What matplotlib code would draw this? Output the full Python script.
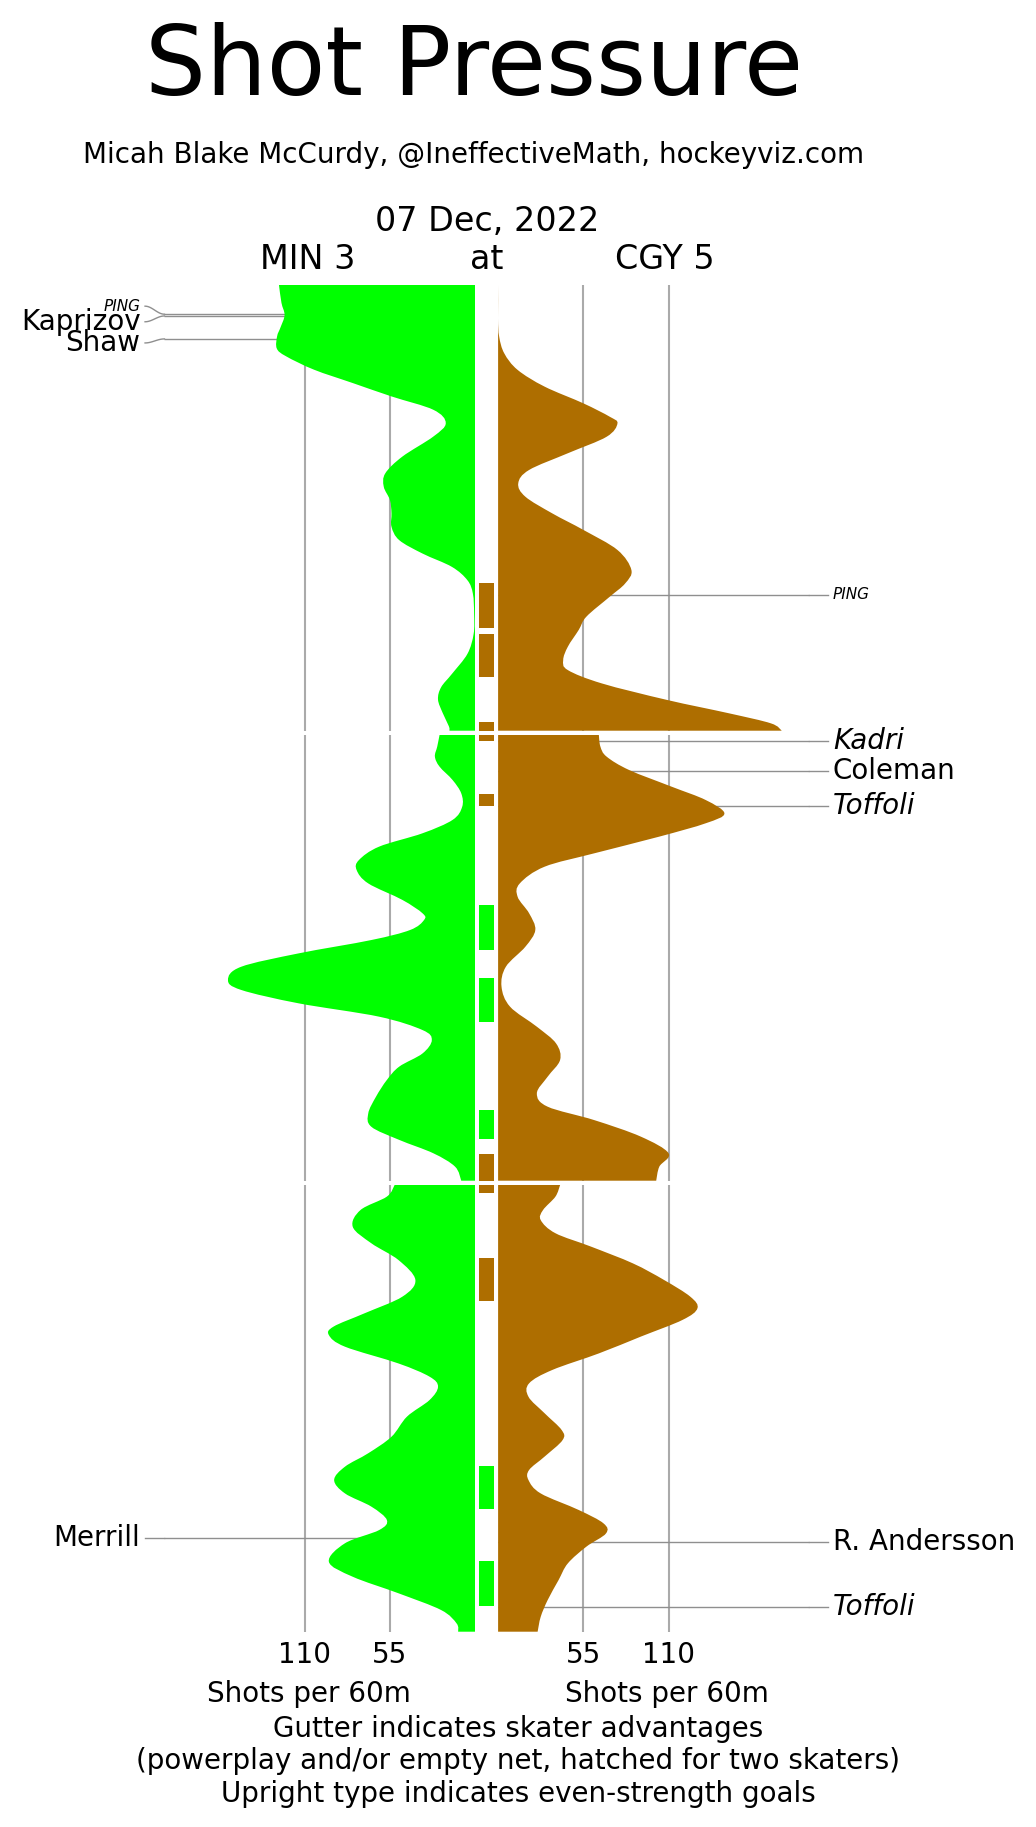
import numpy as np
import matplotlib.pyplot as plt
from matplotlib.path import Path
from matplotlib.patches import PathPatch
from matplotlib.transforms import blended_transform_factory

plt.rcParams['font.family'] = 'DejaVu Sans'

GREEN = '#00ff00'
BROWN = '#ae6e00'
GRID = '#aaaaaa'
LEAD = '#8f8f8f'

# MIN (left side): shots per 60m, vs minutes into period
min_t1 = [0, 0.8, 1.35, 1.9, 2.3, 2.85, 3.2, 3.8, 4.4, 5.0, 5.6, 6.2, 6.8, 7.7, 8.45, 9.05,
          9.65, 10.25, 10.85, 11.45, 12.05, 12.65, 13.25, 13.85, 14.75, 15.65, 16.55, 17.45,
          18.05, 18.6, 19.2, 19.8, 20]
min_v1 = [126.6, 125, 123, 125.6, 127.8, 128, 122, 104, 79, 54, 27, 19, 27, 47, 58, 59,
          55, 54, 54, 49, 34, 15, 5, 1.5, 0.7, 1, 5, 15, 22, 24, 21, 17, 16.6]
min_t2 = [0, 0.52, 0.97, 1.42, 2.02, 2.62, 3.22, 3.81, 4.41, 5.01, 5.61, 6.06, 6.66, 7.4,
          8.0, 8.3, 8.75, 9.2, 9.8, 10.4, 10.99, 11.44, 12.04, 12.64, 13.24, 13.69, 14.29,
          14.88, 15.48, 16.23, 16.98, 17.58, 18.17, 18.77, 19.37, 20]
min_v2 = [23, 24.5, 26, 23, 14.6, 9, 8.4, 14.6, 34, 62, 75, 76.5, 69, 47, 34, 33, 42, 67,
          114, 151, 159.5, 151, 114, 62, 34, 28, 34, 49, 57, 64, 69, 67, 49, 27, 13, 9]
min_t3 = [0, 0.52, 1.12, 1.87, 2.61, 3.36, 4.25, 5.0, 5.75, 6.34, 6.72, 7.24, 7.99, 8.58,
          9.03, 9.63, 10.37, 11.27, 12.01, 12.61, 13.21, 13.81, 14.4, 15.0, 15.45, 16.04,
          16.87, 17.54, 18.28, 19.03, 19.63, 20]
min_v3 = [52, 57, 74, 79, 67, 49.5, 38.6, 47, 71.6, 91.4, 94.4, 84, 49.5, 29.5, 24, 29.5,
          44, 54, 69, 84, 91, 84, 67, 57, 62, 84, 94.4, 79, 49.5, 22, 12, 11]

# CGY (right side)
cgy_t1 = [0, 1.5, 2.32, 3.07, 3.81, 4.56, 5.31, 5.91, 6.21, 6.81, 7.55, 8.3, 8.9, 9.5,
          10.25, 10.99, 11.89, 12.79, 13.39, 13.99, 14.88, 15.48, 16.23, 16.83, 17.28,
          17.88, 18.62, 19.22, 19.67, 20]
cgy_v1 = [0, 0, 0.7, 4, 12.6, 30, 55, 72, 77, 70, 45, 20, 13, 17.6, 35, 55, 77, 86, 82, 72,
          57, 52, 45, 42, 45, 67, 109, 149, 176, 183]
cgy_t2 = [0, 0.52, 0.97, 1.57, 2.32, 2.92, 3.52, 3.96, 4.56, 5.31, 5.91, 6.66, 7.26, 8.0,
          8.75, 9.5, 10.4, 11.29, 12.19, 13.09, 13.84, 14.58, 15.33, 16.08, 16.68, 17.28,
          18.02, 18.77, 19.37, 20]
cgy_v2 = [65, 66, 70, 84.5, 112, 134, 146, 134, 104, 62, 30, 14, 12.6, 20, 24, 17.6, 5, 2.2,
          7.7, 25, 37.4, 40, 32, 25, 32, 62, 92, 110, 104, 102]
cgy_t3 = [0, 0.52, 1.12, 1.57, 2.16, 2.76, 3.51, 4.25, 5.0, 5.52, 6.04, 6.79, 7.54, 8.28,
          8.88, 9.48, 10.22, 10.97, 11.42, 12.16, 12.76, 13.21, 13.81, 14.55, 15.15, 15.6,
          16.19, 16.94, 17.69, 18.58, 19.33, 20]
cgy_v3 = [40, 37, 29, 27.5, 37, 60, 87, 107, 124, 128.6, 119, 92, 65, 35, 20, 19.6, 30, 41,
          41.6, 30, 20, 19.6, 27.5, 52, 68, 69.6, 57, 45, 39, 32, 27.5, 25.5]

# skater advantages in the gutter: (period, start, end, team)
adv_period = [1, 1, 1, 2, 2, 2, 2, 2, 2, 3, 3, 3, 3]
adv_start = [13.39, 15.66, 19.63, 0, 2.65, 7.63, 10.9, 16.83, 18.8, 0, 3.25, 12.57, 16.83]
adv_end = [15.38, 17.61, 20, 0.25, 3.17, 9.63, 12.86, 18.11, 20, 0.34, 5.19, 14.52, 18.86]
adv_team = ['CGY', 'CGY', 'CGY', 'CGY', 'CGY', 'MIN', 'MIN', 'MIN', 'CGY', 'CGY', 'CGY',
            'MIN', 'MIN']

# goals / posts
min_goal_period = [1, 1, 1, 3]
min_goal_time = [1.31, 1.39, 2.42, 15.81]
min_goal_label_time = [0.95, 1.65, 2.6, 15.81]
min_goal_name = ['PING', 'Kaprizov', 'Shaw', 'Merrill']
min_goal_italic = [True, False, False, False]

cgy_goal_period = [1, 2, 2, 2, 3, 3]
cgy_goal_time = [13.91, 0.27, 1.62, 3.19, 15.98, 18.88]
cgy_goal_label_time = cgy_goal_time
cgy_goal_name = ['PING', 'Kadri', 'Coleman', 'Toffoli', 'R. Andersson', 'Toffoli']
cgy_goal_italic = [True, True, False, True, False, True]

grid_vals = [55, 110]

W, H = 1036, 1827
fig = plt.figure(figsize=(W / 100, H / 100), dpi=100)

PX_PER_UNIT = 1.55
ZERO_L, ZERO_R = 475.2, 498.1     # pixel columns of the two zero lines
period_px = [(285, 730.7), (735, 1180.7), (1185, 1631.7)]
BEND, LINE_END, LABEL_X = 200.5, 213.0, 216.0


def fx(px):
    return px / W


def fy(py):
    return 1 - py / H


def smooth_fill(ax, t, v, color):
    # area between zero and the curve, edge drawn as Catmull-Rom beziers through the points
    pts = np.column_stack([v, t]).astype(float)
    ext = np.vstack([pts[0], pts, pts[-1]])
    verts, codes = [(0, t[0]), pts[0]], [Path.MOVETO, Path.LINETO]
    for i in range(len(pts) - 1):
        p0, p1, p2, p3 = ext[i], ext[i + 1], ext[i + 2], ext[i + 3]
        verts += [p1 + (p2 - p0) / 6, p2 - (p3 - p1) / 6, p2]
        codes += [Path.CURVE4] * 3
    verts += [(0, t[-1]), (0, t[0])]
    codes += [Path.LINETO, Path.CLOSEPOLY]
    ax.add_patch(PathPatch(Path(verts, codes), facecolor=color, lw=0, zorder=2))


min_series = [(min_t1, min_v1), (min_t2, min_v2), (min_t3, min_v3)]
cgy_series = [(cgy_t1, cgy_v1), (cgy_t2, cgy_v2), (cgy_t3, cgy_v3)]

left_axes, gut_axes, right_axes = [], [], []
for i, (top, bot) in enumerate(period_px):
    b, h = fy(bot), (bot - top) / H
    axL = fig.add_axes([0, b, fx(ZERO_L), h])
    axG = fig.add_axes([fx(ZERO_L), b, fx(ZERO_R - ZERO_L), h])
    axR = fig.add_axes([fx(ZERO_R), b, 1 - fx(ZERO_R), h])
    axL.set_xlim(ZERO_L / PX_PER_UNIT, 0)
    axR.set_xlim(0, (W - ZERO_R) / PX_PER_UNIT)
    axG.set_xlim(0, 1)
    for ax in (axL, axG, axR):
        ax.set_ylim(20, 0)
        ax.axis('off')
    for g in grid_vals:
        axL.axvline(g, color=GRID, lw=1.5, zorder=0)
        axR.axvline(g, color=GRID, lw=1.5, zorder=0)
    t, v = min_series[i]
    smooth_fill(axL, t, v, GREEN)
    t, v = cgy_series[i]
    smooth_fill(axR, t, v, BROWN)
    left_axes.append(axL)
    gut_axes.append(axG)
    right_axes.append(axR)

for p, s, e, team in zip(adv_period, adv_start, adv_end, adv_team):
    gut_axes[p - 1].bar(0.5, e - s, bottom=s, width=0.65,
                        color=GREEN if team == 'MIN' else BROWN, lw=0)


def draw_goals(axes_list, periods, times, label_times, names, italics, ha):
    for p, t, lt, name, it in zip(periods, times, label_times, names, italics):
        ax = axes_list[p - 1]
        ax.plot([0, BEND], [t, t], color=LEAD, lw=1, zorder=1, solid_capstyle='butt')
        s = np.linspace(0, 1, 30)
        ax.plot(BEND + (LINE_END - BEND) * s, t + (lt - t) * (1 - np.cos(np.pi * s)) / 2,
                color=LEAD, lw=1, zorder=1, clip_on=False)
        small = name == 'PING'
        ax.text(LABEL_X, lt, name, ha=ha, va='center', fontsize=11 if small else 20,
                style='italic' if it else 'normal', clip_on=False)


draw_goals(left_axes, min_goal_period, min_goal_time, min_goal_label_time,
           min_goal_name, min_goal_italic, 'right')
draw_goals(right_axes, cgy_goal_period, cgy_goal_time, cgy_goal_label_time,
           cgy_goal_name, cgy_goal_italic, 'left')

# tick labels under the last period
for ax in (left_axes[-1], right_axes[-1]):
    tr = blended_transform_factory(ax.transData, fig.transFigure)
    for g in grid_vals:
        ax.text(g, fy(1663), str(g), transform=tr, ha='center', va='baseline', fontsize=20)

fig.text(fx(309), fy(1702), 'Shots per 60m', ha='center', va='baseline', fontsize=20)
fig.text(fx(667), fy(1702), 'Shots per 60m', ha='center', va='baseline', fontsize=20)

footer = ['Gutter indicates skater advantages',
          '(powerplay and/or empty net, hatched for two skaters)',
          'Upright type indicates even-strength goals']
for line, py in zip(footer, [1737, 1769, 1802]):
    fig.text(fx(518), fy(py), line, ha='center', va='baseline', fontsize=20)

fig.text(fx(474), fy(95), 'Shot Pressure', ha='center', va='baseline', fontsize=69)
fig.text(fx(474), fy(163), 'Micah Blake McCurdy, @IneffectiveMath, hockeyviz.com',
         ha='center', va='baseline', fontsize=20)
fig.text(fx(487), fy(231), '07 Dec, 2022', ha='center', va='baseline', fontsize=24)
fig.text(fx(308), fy(269), 'MIN 3', ha='center', va='baseline', fontsize=24)
fig.text(fx(487), fy(269), 'at', ha='center', va='baseline', fontsize=24)
fig.text(fx(665), fy(269), 'CGY 5', ha='center', va='baseline', fontsize=24)

fig.savefig('out.png', dpi=100, facecolor='white')
